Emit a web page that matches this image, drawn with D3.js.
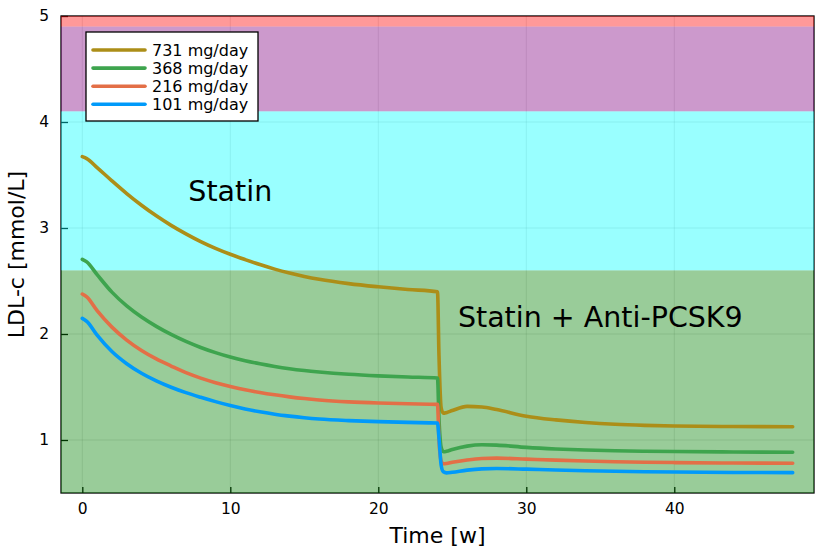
<!DOCTYPE html>
<html>
<head>
<meta charset="utf-8">
<script src="https://cdn.jsdelivr.net/npm/d3@7"></script>
<style>
  body { margin: 0; background: #fff; }
  text { font-family: "DejaVu Sans", sans-serif; }
</style>
</head>
<body>
<div id="chart"></div>
<script>
// time points [weeks]
const times = [0, 0.3, 1, 2, 3, 4, 5, 6, 7, 8, 9, 10, 11, 12, 13, 14, 15, 16, 18, 20, 22, 24,
    24.1, 24.25, 24.4, 24.6, 25, 26, 27, 28, 30, 32, 34, 36, 38, 40, 44, 48];

// LDL-c per dose [mmol/L]
const ldl731 = [3.673, 3.655, 3.57, 3.445, 3.325, 3.215, 3.115, 3.025, 2.945, 2.872, 2.808, 2.752, 2.702, 2.655, 2.612, 2.575, 2.543, 2.516, 2.475, 2.445, 2.42, 2.398,
    1.80, 1.30, 1.252, 1.258, 1.278, 1.317, 1.312, 1.287, 1.225, 1.19, 1.165, 1.148, 1.138, 1.132, 1.127, 1.125];
const ldl368 = [2.705, 2.68, 2.56, 2.395, 2.265, 2.16, 2.072, 1.996, 1.93, 1.873, 1.824, 1.782, 1.748, 1.719, 1.694, 1.673, 1.656, 1.642, 1.62, 1.605, 1.594, 1.585,
    1.20, 0.93, 0.889, 0.893, 0.91, 0.942, 0.955, 0.952, 0.93, 0.915, 0.905, 0.898, 0.894, 0.891, 0.887, 0.884];
const ldl216 = [2.377, 2.35, 2.22, 2.065, 1.943, 1.845, 1.765, 1.698, 1.635, 1.584, 1.541, 1.505, 1.474, 1.448, 1.426, 1.407, 1.391, 1.378, 1.36, 1.349, 1.342, 1.336,
    1.0, 0.80, 0.776, 0.778, 0.79, 0.812, 0.826, 0.829, 0.82, 0.81, 0.802, 0.795, 0.79, 0.787, 0.783, 0.78];
const ldl101 = [2.148, 2.12, 1.99, 1.835, 1.72, 1.63, 1.558, 1.498, 1.447, 1.403, 1.362, 1.325, 1.293, 1.266, 1.243, 1.225, 1.21, 1.198, 1.183, 1.173, 1.166, 1.16,
    1.02, 0.76, 0.70, 0.69, 0.696, 0.716, 0.728, 0.731, 0.725, 0.717, 0.71, 0.705, 0.701, 0.698, 0.694, 0.692];

const seriesNames = ["731 mg/day", "368 mg/day", "216 mg/day", "101 mg/day"];
const seriesValues = [ldl731, ldl368, ldl216, ldl101];
const seriesColors = ["#ac8e18", "#3ea44e", "#e36f47", "#009afa"];

// risk bands: [low, high, colour]
const bandLow = [4.9, 4.1, 2.6, 0.5];
const bandHigh = [5.0, 4.9, 4.1, 2.6];
const bandColors = ["red", "purple", "cyan", "green"];

const xTicks = [0, 10, 20, 30, 40];
const yTicks = [1, 2, 3, 4, 5];

const annoText = ["Statin", "Statin + Anti-PCSK9"];
const annoT = [10, 35];
const annoV = [3.35, 2.16];

const W = 830, H = 554;
const margin = {left: 61, right: 16, top: 16, bottom: 61};

const svg = d3.select("#chart").append("svg")
    .attr("width", W).attr("height", H);

const x = d3.scaleLinear().domain([-1.44, 49.44]).range([margin.left, W - margin.right]);
const y = d3.scaleLinear().domain([0.5, 5]).range([H - margin.bottom, margin.top]);

// grid
svg.append("g").selectAll("line").data(xTicks).join("line")
    .attr("x1", d => x(d)).attr("x2", d => x(d))
    .attr("y1", y(0.5)).attr("y2", y(5))
    .attr("stroke", "black").attr("stroke-opacity", 0.1).attr("stroke-width", 1);
svg.append("g").selectAll("line").data(yTicks).join("line")
    .attr("x1", x(-1.44)).attr("x2", x(49.44))
    .attr("y1", d => y(d)).attr("y2", d => y(d))
    .attr("stroke", "black").attr("stroke-opacity", 0.1).attr("stroke-width", 1);

// axes with inward ticks
const xAxis = svg.append("g")
    .attr("transform", "translate(0," + y(0.5) + ")")
    .call(d3.axisBottom(x).tickValues(xTicks).tickSize(-6).tickPadding(10).tickFormat(d3.format("d")));
const yAxis = svg.append("g")
    .attr("transform", "translate(" + x(-1.44) + ",0)")
    .call(d3.axisLeft(y).tickValues(yTicks).tickSize(-7).tickPadding(12).tickFormat(d3.format("d")));
[xAxis, yAxis].forEach(a => {
    a.select(".domain").remove();
    a.selectAll(".tick line").attr("stroke", "black").attr("stroke-width", 1.3);
    a.selectAll(".tick text").attr("font-size", 15.5).attr("fill", "black")
        .attr("font-family", "DejaVu Sans");
});

// frame
svg.append("rect")
    .attr("x", x(-1.44)).attr("y", y(5))
    .attr("width", x(49.44) - x(-1.44)).attr("height", y(0.5) - y(5))
    .attr("fill", "none").attr("stroke", "black").attr("stroke-width", 1.3);

// bands (drawn over frame and grid, as in the original)
svg.append("g").selectAll("rect").data(bandLow).join("rect")
    .attr("x", x(-1.44)).attr("width", x(49.44) - x(-1.44))
    .attr("y", (d, i) => y(bandHigh[i]))
    .attr("height", (d, i) => y(d) - y(bandHigh[i]))
    .attr("fill", (d, i) => bandColors[i]).attr("fill-opacity", 0.4);

// lines
const line = d3.line()
    .x((d, i) => x(times[i]))
    .y(d => y(d))
    .curve(d3.curveMonotoneX);

svg.append("g").selectAll("path").data(seriesValues).join("path")
    .attr("d", line)
    .attr("fill", "none")
    .attr("stroke", (d, i) => seriesColors[i])
    .attr("stroke-width", 3.6)
    .attr("stroke-linecap", "round")
    .attr("stroke-linejoin", "round");

// annotations
svg.append("g").selectAll("text").data(annoText).join("text")
    .attr("x", (d, i) => x(annoT[i]))
    .attr("y", (d, i) => y(annoV[i]))
    .attr("dy", "0.36em")
    .attr("text-anchor", "middle")
    .attr("font-size", 28.5)
    .text(d => d);

// axis labels
svg.append("text")
    .attr("x", (x(-1.44) + x(49.44)) / 2).attr("y", 543)
    .attr("text-anchor", "middle").attr("font-size", 22)
    .text("Time [w]");
svg.append("text")
    .attr("transform", "translate(24," + ((y(0.5) + y(5)) / 2) + ") rotate(-90)")
    .attr("text-anchor", "middle").attr("font-size", 22)
    .text("LDL-c [mmol/L]");

// legend
const legend = svg.append("g").attr("transform", "translate(86,32)");
legend.append("rect")
    .attr("width", 172).attr("height", 89)
    .attr("fill", "white").attr("stroke", "black").attr("stroke-width", 1.3);
const rows = legend.selectAll("g").data(seriesNames).join("g")
    .attr("transform", (d, i) => "translate(0," + (18 + i * 18.1) + ")");
rows.append("line")
    .attr("x1", 7).attr("x2", 59)
    .attr("stroke", (d, i) => seriesColors[i])
    .attr("stroke-width", 3.6).attr("stroke-linecap", "round");
rows.append("text")
    .attr("x", 66).attr("dy", "0.36em")
    .attr("font-size", 16)
    .text(d => d);
</script>
</body>
</html>
